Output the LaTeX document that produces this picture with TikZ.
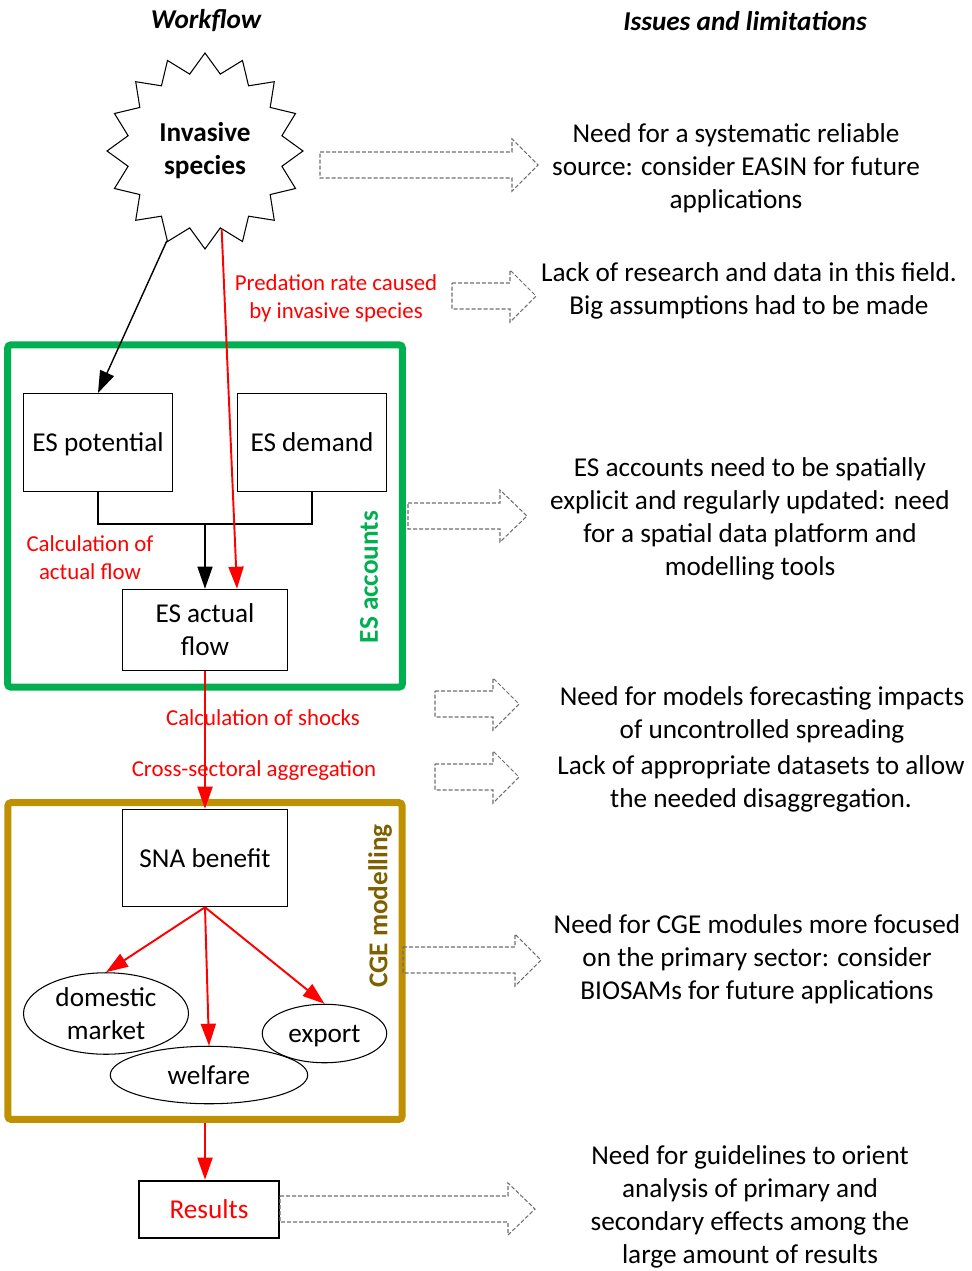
\documentclass[tikz,border=0pt]{standalone}
\usepackage{fontspec}
\setmainfont{Carlito}
\usetikzlibrary{shapes.geometric,arrows.meta}
\definecolor{esgreen}{HTML}{00B050}
\definecolor{cgegold}{HTML}{BF9000}
\definecolor{cgetext}{HTML}{7F6000}
\definecolor{dashgray}{HTML}{6E6E6E}
% hollow dashed arrow: left end, head base, tip, middle y
\newcommand{\blockarrow}[4]{%
  \draw[dasharrow] (#1,#4-13) -- (#2,#4-13) -- (#2,#4-26) -- (#3,#4)
    -- (#2,#4+26) -- (#2,#4+13) -- (#1,#4+13) -- cycle;}
\begin{document}
\begin{tikzpicture}[x=0.02cm,y=-0.02cm,
    font=\fontsize{15.5}{18.8}\selectfont,
    >={Triangle[length=0.44cm,width=0.3cm]},
    box/.style={draw,line width=0.6pt,inner sep=0pt,align=center},
    ell/.style={draw,ellipse,line width=0.6pt,inner sep=0pt,align=center},
    frame/.style={draw,line width=4pt,rounded corners=2pt,inner sep=0pt},
    redlbl/.style={text=red,align=center,font=\fontsize{13}{15.9}\selectfont},
    issue/.style={align=center},
    dasharrow/.style={draw=dashgray,line width=0.6pt,dash pattern=on 0.08cm off 0.04cm},
    redline/.style={red,line width=1.1pt}]
  \useasboundingbox (0,0) rectangle (972,1271);
  % headings
  \node[font=\fontsize{15.5}{18.8}\selectfont\bfseries\itshape] (wf) at (206,21) {Workflow};
  \node[font=\fontsize{15.5}{18.8}\selectfont\bfseries\itshape] (il) at (745,21) {Issues and limitations};
  % workflow side
  \node[draw,star,star points=16,star point ratio=1.25,minimum size=3.92cm,
        inner sep=0pt,line width=0.6pt,align=center,font=\fontsize{15.5}{18.8}\selectfont\bfseries]
        (inv) at (205,151) {Invasive\\species};
  \node[frame,draw=esgreen,minimum width=7.9cm,minimum height=6.85cm] (esfr) at (205,516) {};
  \node[frame,draw=cgegold,minimum width=7.89cm,minimum height=6.34cm] (cgefr) at (205,961) {};
  \node[box,text depth=0pt,minimum width=2.98cm,minimum height=1.96cm] (pot) at (98,442.5) {ES potential};
  \node[box,minimum width=2.98cm,minimum height=1.96cm] (dem) at (312,442.5) {ES demand};
  \node[box,minimum width=3.3cm,minimum height=1.63cm] (act) at (205,630) {ES actual\\flow};
  \node[box,minimum width=3.3cm,minimum height=1.95cm] (sna) at (205,858) {SNA benefit};
  \node[ell,minimum width=3.3cm,minimum height=1.63cm] (dom) at (106,1013.5) {domestic\\market};
  \node[ell,text depth=0pt,minimum width=2.49cm,minimum height=1.17cm] (exp) at (324.5,1033.5) {export};
  \node[ell,minimum width=3.95cm,minimum height=1.15cm] (wel) at (209,1075) {welfare};
  \node[box,line width=1.2pt,minimum width=2.8cm,minimum height=1.15cm,text=red] (res) at (209,1209.5) {Results};
  \node[rotate=90,text=esgreen,font=\fontsize{15.5}{18.8}\selectfont\bfseries] (esl) at (369,577) {ES accounts};
  \node[rotate=90,text=cgetext,font=\fontsize{15.5}{18.8}\selectfont\bfseries] (cgel) at (380,906) {CGE modelling};
  \node[redlbl] (pred) at (336,298) {Predation rate caused\\by invasive species};
  \node[redlbl] (calc) at (90,558) {Calculation of\\actual flow};
  \node[redlbl] (shock) at (263,718) {Calculation of shocks};
  \node[redlbl] (aggr) at (254,771) {Cross-sectoral aggregation};
  % connectors
  \coordinate (join) at (205,524);
  \draw[->,line width=0.8pt] (inv.247.5) -- (pot.north);
  \draw[line width=0.8pt] (pot.south) -- (pot.south |- join) -- (dem.south |- join) -- (dem.south);
  \draw[->,line width=0.8pt] (join) -- (act.north);
  \draw[->,redline] (inv.282) -- ([xshift=0.64cm]act.north);
  \draw[->,redline] (act.south) -- (sna.north);
  \draw[->,redline] (sna.south) -- (dom.north);
  \draw[->,redline] (sna.south) -- (wel.north);
  \draw[->,redline] (sna.south) -- (exp.north);
  \draw[->,redline] (cgefr.south) -- (cgefr.south |- res.north);
  % issues side
  \blockarrow{320}{512}{538}{165}
  \blockarrow{452}{510}{536}{296}
  \blockarrow{408}{500}{527}{516}
  \blockarrow{435}{493}{519}{704}
  \blockarrow{435}{493}{519}{777}
  \blockarrow{403}{515}{541}{960}
  \blockarrow{280}{508}{535}{1209}
  \node[issue] (is1) at (736,168) {Need for a systematic reliable\\source: consider EASIN for future\\applications};
  \node[issue] (is2) at (749,291) {Lack of research and data in this field.\\Big assumptions had to be made};
  \node[issue] (is3) at (750,519) {ES accounts need to be spatially\\explicit and regularly updated: need\\for a spatial data platform and\\modelling tools};
  \node[issue] (is4) at (762,715) {Need for models forecasting impacts\\of uncontrolled spreading};
  \node[issue] (is5) at (761,784) {Lack of appropriate datasets to allow\\the needed disaggregation.};
  \node[issue] (is6) at (757,959) {Need for CGE modules more focused\\on the primary sector: consider\\BIOSAMs for future applications};
  \node[issue] (is7) at (750,1207) {Need for guidelines to orient\\analysis of primary and\\secondary effects among the\\large amount of results};
\end{tikzpicture}
\end{document}
